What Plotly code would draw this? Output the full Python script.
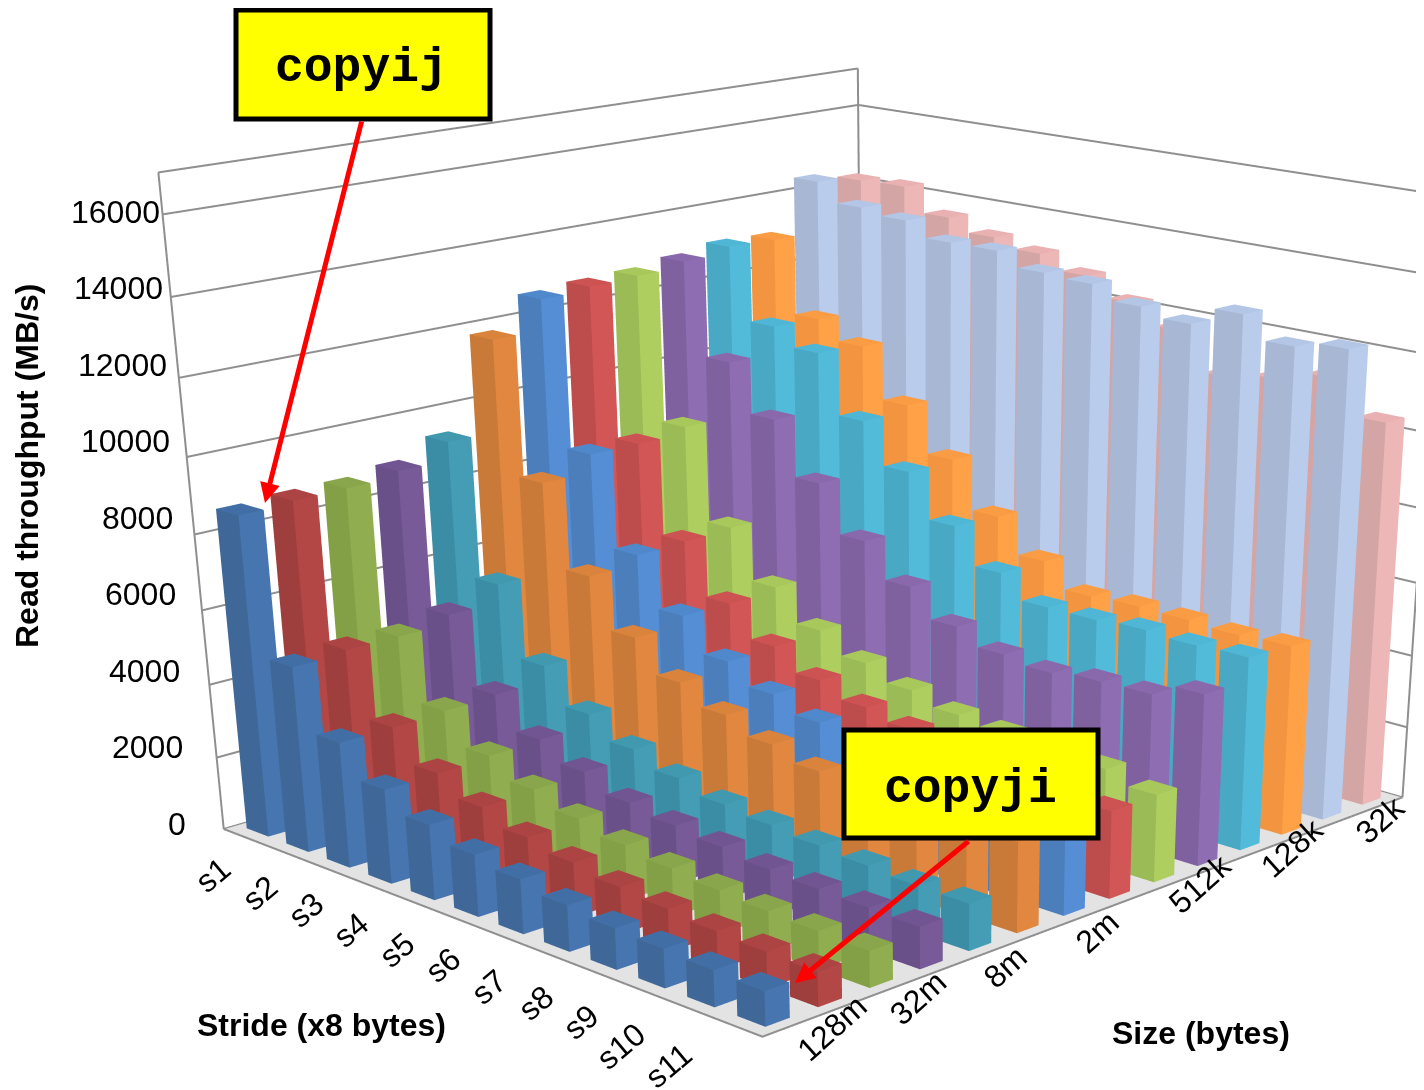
import plotly.graph_objects as go

# ---------- data ----------
strides = ["s1","s2","s3","s4","s5","s6","s7","s8","s9","s10","s11","s12"]
stride_labels = ["s1","s2","s3","s4","s5","s6","s7","s8","s9","s10","s11"]
sizes = ["128m","64m","32m","16m","8m","4m","2m","1024k","512k","256k","128k","64k","32k","16k"]
size_labels = ["128m","32m","8m","2m","512k","128k","32k"]
z_ticks = [0,2000,4000,6000,8000,10000,12000,14000,16000]
size_128m = [8650,5020,3390,2540,2020,1660,1450,1220,1080,1020,950,900]
size_64m = [8720,5120,3410,2570,2070,1680,1450,1245,1128,1004,940,900]
size_32m = [8730,5110,3465,2634,2123,1752,1468,1286,1152,1057,1001,955]
size_16m = [8880,5344,3528,2681,2194,1758,1564,1418,1250,1182,1143,1105]
size_8m = [9350,5822,3942,2985,2406,2017,1710,1569,1449,1351,1261,1242]
size_4m = [11780,8250,6040,4710,3850,3340,2930,2600,2500,2450,2400,2400]
size_2m = [12590,8720,6285,4955,4055,3525,3130,2920,2790,2660,2580,2500]
size_1024k = [12680,8710,6335,4945,4105,3530,3160,2925,2765,2635,2500,2350]
size_512k = [12725,8880,6390,5055,4190,3640,3250,2945,2810,2790,2650,2365]
size_256k = [12870,10380,9080,7620,6340,5405,4650,4235,4090,4225,4260,4640]
size_128k = [13040,11100,10630,9040,7930,6750,5780,5170,5170,5250,5190,5240]
size_64k = [13000,11050,10550,9190,7970,6690,5770,5130,5190,5170,5110,5170]
size_32k = [14380,13880,13750,13370,13380,13030,12970,12620,12420,12920,12350,12540]
size_16k = [14200,14240,13610,13290,13070,12710,12220,11730,10750,10950,11260,10400]
table = [size_128m,size_64m,size_32m,size_16m,size_8m,size_4m,size_2m,size_1024k,size_512k,size_256k,size_128k,size_64k,size_32k,size_16k]
zmax = 17000

# ---------- style ----------
W, H, OX, OY = 1832, 3000, 8, 8
palette = [("#4675B0","#3F6898","#426EA6"),("#B24745","#9E3F3E","#AB4442"),("#90AD50","#83A046","#8AA64C"),
           ("#775A97","#6A5089","#715593"),("#449DB5","#3B8DA5","#4199B0"),("#E2873F","#C97A38","#DA833C"),
           ("#558ED5","#4B7EBB","#5088CC"),("#D35656","#BD4D4D","#CC5351"),("#AECF60","#9BBB57","#A8C85C"),
           ("#8E6DB2","#7F619F","#8968AC"),("#52BBDA","#49A8C4","#4FB6D5"),("#FFA147","#F39540","#F99C44"),
           ("#B9CCEB","#A7B7D4","#B3C6E5"),("#EDB7B7","#D4A5A5","#E9B1B1")]
gx, gy = 0.225, 0.27
nx, ny = len(strides), len(sizes)
pad_x, pad_y, pad_z = 0.1, 0.1, 170
flat = dict(ambient=1, diffuse=0, specular=0, roughness=1, fresnel=0)

xs, ys, zs, I, J, K, fc = [], [], [], [], [], [], []
def quad(a, b, c, d, col):
    n = len(xs)
    for q in (a, b, c, d):
        xs.append(q[0]); ys.append(q[1]); zs.append(q[2])
    I.extend([n, n]); J.extend([n+1, n+2]); K.extend([n+2, n+3]); fc.extend([col, col])
for i, row in enumerate(table):
    R, L, T = palette[i]
    for j, v in enumerate(row):
        x0, x1 = j+gx, j+1-gx
        y0, y1 = i+gy, i+1-gy
        quad((x0,y0,v),(x1,y0,v),(x1,y1,v),(x0,y1,v),T)
        quad((x1,y0,0),(x1,y1,0),(x1,y1,v),(x1,y0,v),R)
        quad((x0,y0,0),(x1,y0,0),(x1,y0,v),(x0,y0,v),L)

fig = go.Figure()
fig.add_trace(go.Mesh3d(x=xs,y=ys,z=zs,i=I,j=J,k=K,facecolor=fc,flatshading=True,hoverinfo="skip",lighting=flat))
fig.add_trace(go.Mesh3d(x=[0,nx,nx,0],y=[0,0,ny,ny],z=[-5,-5,-5,-5],i=[0,0],j=[1,2],k=[2,3],color="#E3E3E3",hoverinfo="skip",lighting=flat))
lx, ly, lz = [], [], []
for v in z_ticks:
    lx += [0,0,nx,None]; ly += [0,ny,ny,None]; lz += [v,v,v,None]
lx += [0,0,None]; ly += [0,ny,None]; lz += [zmax,zmax,None]
for a, b in ((0,0),(0,ny),(nx,ny)):
    lx += [a,a,None]; ly += [b,b,None]; lz += [0,zmax,None]
lx += [0,nx,nx,None]; ly += [0,0,ny,None]; lz += [0,0,0,None]
fig.add_trace(go.Scatter3d(x=lx,y=ly,z=lz,mode="lines",line=dict(color="#8F8F8F",width=4),hoverinfo="skip"))

def X(px): return (px-OX)/W
def Y(py): return 1-(py-OY)/H
tick_font = dict(family="Liberation Sans", size=32, color="black")
title_font = dict(family="Liberation Sans", size=32, color="black")
mono = dict(family="Liberation Mono", size=48, color="black")
bold = lambda s: f"<b>{s}</b>"
ann = []
z_label_right = [188,185,182,178,175,172,169,165,162]
z_label_y = [824,747,671,594,518,441,365,288,212]
for t, xr, yr in zip(z_ticks, z_label_right, z_label_y):
    ann.append(dict(x=X(xr),y=Y(yr),text=str(t),xanchor="right",yanchor="middle",font=tick_font))
for t, a, b in zip(stride_labels,[213,260,306,351,397,443,489,536,581,621,668],[875,893,910,930,950,965,987,1003,1022,1046,1066]):
    ann.append(dict(x=X(a),y=Y(b),text=t,textangle=-40,xanchor="center",yanchor="middle",font=tick_font))
for t, a, b in zip(size_labels,[832,918,1005,1097,1200,1292,1380],[1028,998,967,932,884,848,820]):
    ann.append(dict(x=X(a),y=Y(b),text=t,textangle=-42,xanchor="center",yanchor="middle",font=tick_font))
ann.append(dict(x=X(27),y=Y(466),text=bold("Read throughput (MB/s)"),textangle=-90,xanchor="center",yanchor="middle",font=title_font))
ann.append(dict(x=X(321),y=Y(1025),text=bold("Stride (x8 bytes)"),xanchor="center",yanchor="middle",font=title_font))
ann.append(dict(x=X(1201),y=Y(1033),text=bold("Size (bytes)"),xanchor="center",yanchor="middle",font=title_font))
ann.append(dict(x=X(361),y=Y(68),text=bold("copyij"),xanchor="center",yanchor="middle",font=mono))
ann.append(dict(x=X(971),y=Y(789),text=bold("copyji"),xanchor="center",yanchor="middle",font=mono))
for a in ann:
    a.update(xref="paper",yref="paper",showarrow=False)
for hx, hy, tx, ty in ((265,503,362,120),(795,983,970,840)):
    ann.append(dict(x=X(hx),y=Y(hy),xref="paper",yref="paper",ax=tx-hx,ay=ty-hy,axref="pixel",ayref="pixel",
                    text="",showarrow=True,arrowhead=2,arrowsize=0.8,arrowwidth=5,arrowcolor="#FF0000"))
shapes = [dict(type="rect",xref="paper",yref="paper",x0=X(x0),x1=X(x1),y0=Y(y0),y1=Y(y1),
               fillcolor="#FFFF00",line=dict(color="black",width=5))
          for x0,y0,x1,y1 in ((236,10,490,119),(844,730,1098,838))]
hidden = dict(visible=False,showgrid=False,zeroline=False,showticklabels=False,showspikes=False)
fig.update_layout(width=W,height=H,margin=dict(l=0,r=0,t=0,b=0),showlegend=False,paper_bgcolor="white",
  annotations=ann,shapes=shapes,
  scene=dict(domain=dict(x=[0,1],y=[0,1]),
    xaxis=dict(range=[-pad_x,nx+pad_x],**hidden),yaxis=dict(range=[-pad_y,ny+pad_y],**hidden),zaxis=dict(range=[-pad_z,zmax+pad_z],**hidden),
    aspectmode="manual",
    aspectratio=dict(x=0.793*(nx+2*pad_x)/nx,y=0.912*(ny+2*pad_y)/ny,z=0.632*(zmax+2*pad_z)/zmax),
    camera=dict(eye=dict(x=2.578,y=-2.483,z=0.893),center=dict(x=1.266,y=-1.142,z=-0.170),up=dict(x=-0.366,y=0.375,z=1),projection=dict(type="perspective"))))
fig.write_html("out.html")
